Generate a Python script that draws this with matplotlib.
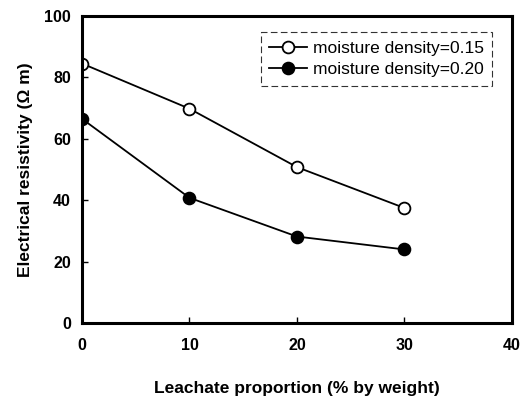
import matplotlib
matplotlib.use("Agg")
import matplotlib.pyplot as plt

leachate = [0, 10, 20, 30]
res_015 = [84.5, 69.8, 50.8, 37.5]
res_020 = [66.5, 40.8, 28.2, 24.0]
xticks = [0, 10, 20, 30, 40]
yticks = [0, 20, 40, 60, 80, 100]

plt.rcParams['font.family'] = ['Liberation Sans', 'DejaVu Sans']

fig = plt.figure(figsize=(5.26, 3.98), dpi=100)
ax = fig.add_axes([0.156, 0.188, 0.817, 0.772])

ax.plot(leachate, res_015, '-', color='black', lw=1.3, marker='o', ms=8.5,
        mfc='white', mec='black', mew=1.3, label='moisture density=0.15')
ax.plot(leachate, res_020, '-', color='black', lw=1.3, marker='o', ms=8.5,
        mfc='black', mec='black', mew=1.3, label='moisture density=0.20')

ax.set_xlim(0, 40)
ax.set_ylim(0, 100)
ax.set_xticks(xticks)
ax.set_yticks(yticks)
for s in ax.spines.values():
    s.set_linewidth(2.2)
ax.tick_params(direction='in', length=4, width=1, labelsize=11.5, pad=8)
ax.tick_params(axis='x', pad=11)
for lab in ax.get_xticklabels() + ax.get_yticklabels():
    lab.set_fontweight('bold')

ax.set_xlabel('Leachate proportion (% by weight)', fontsize=12.5, fontweight='bold', labelpad=20)
ax.set_ylabel('Electrical resistivity (Ω m)', fontsize=12.5, fontweight='bold', labelpad=8)

leg = ax.legend(loc='upper right', bbox_to_anchor=(0.975, 0.975), fontsize=12.5,
                frameon=True, fancybox=False, borderpad=0.5, handlelength=2.2,
                handletextpad=0.3, labelspacing=0.35)
leg.get_frame().set_edgecolor('black')
leg.get_frame().set_linewidth(0.8)
leg.get_frame().set_linestyle((0, (6, 3)))

fig.savefig('out.png', dpi=100)
